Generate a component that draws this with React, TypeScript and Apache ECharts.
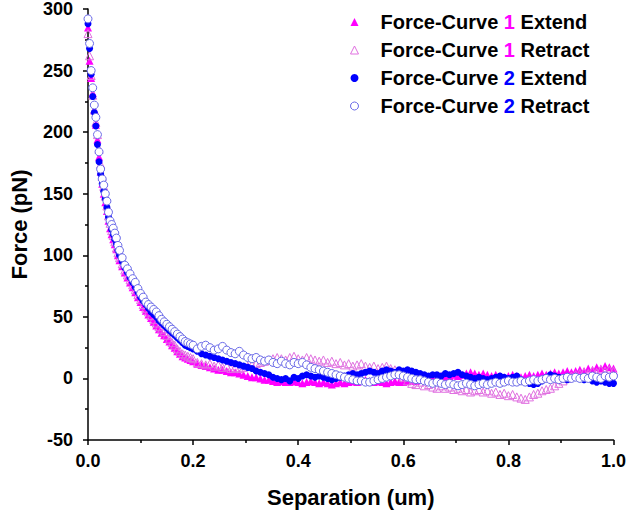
import React, { useEffect, useRef } from "react";
import * as echarts from "echarts";

const separation = [
  0.0, 0.003, 0.006, 0.009, 0.012, 0.015, 0.018, 0.021, 0.024, 0.027,
  0.03, 0.033, 0.036, 0.039, 0.042, 0.045, 0.048, 0.051, 0.054, 0.057, 0.06,
  0.065, 0.07, 0.075, 0.08, 0.085, 0.09, 0.095, 0.1, 0.105, 0.11,
  0.115, 0.12, 0.125, 0.13, 0.135, 0.14, 0.145, 0.15, 0.155, 0.16,
  0.165, 0.17, 0.175, 0.18, 0.185, 0.19, 0.195, 0.2,
  0.208, 0.216, 0.224, 0.232, 0.24, 0.248, 0.256, 0.264, 0.272, 0.28,
  0.288, 0.296, 0.304, 0.312, 0.32, 0.328, 0.336, 0.344, 0.352, 0.36,
  0.368, 0.376, 0.384, 0.392, 0.4, 0.408, 0.416, 0.424, 0.432, 0.44,
  0.448, 0.456, 0.464, 0.472, 0.48, 0.488, 0.496, 0.504, 0.512, 0.52,
  0.528, 0.536, 0.544, 0.552, 0.56, 0.568, 0.576, 0.584, 0.592, 0.6,
  0.608, 0.616, 0.624, 0.632, 0.64, 0.648, 0.656, 0.664, 0.672, 0.68,
  0.688, 0.696, 0.704, 0.712, 0.72, 0.728, 0.736, 0.744, 0.752, 0.76,
  0.768, 0.776, 0.784, 0.792, 0.8, 0.808, 0.816, 0.824, 0.832, 0.84,
  0.848, 0.856, 0.864, 0.872, 0.88, 0.888, 0.896, 0.904, 0.912, 0.92,
  0.928, 0.936, 0.944, 0.952, 0.96, 0.968, 0.976, 0.984, 0.992, 1.0,
];

const extend1 = [
  285, 258, 244, 232, 218, 206, 194, 180, 168, 158, 150, 143, 136, 128, 122, 117, 113, 109, 105, 100, 96,
  91, 86, 82, 78, 74, 70, 66, 62, 58, 55, 52, 49, 46, 43, 40, 37, 35, 32, 30, 27, 25, 22, 20, 18, 17, 16, 15, 14,
  12, 11, 10, 9, 8, 7, 7, 6, 5, 5,
  4, 3, 2, 1, 1, 0, -1, -1, -2, -3,
  -2, -3, -3, -2, -3, -4, -3, -2, -3, -4,
  -3, -4, -5, -4, -3, -4, -3, -2, -3, -2,
  -1, -2, -3, -2, -3, -4, -3, -2, -3, -3,
  -2, -1, -2, -1, 0, 1, 0, 1, 2, 1,
  2, 3, 2, 3, 4, 5, 4, 3, 4, 3,
  2, 3, 2, 1, 2, 3, 2, 1, 2, 3,
  2, 3, 4, 3, 4, 5, 4, 5, 6, 5,
  6, 7, 6, 8, 7, 9, 8, 10, 9, 8,
];

const retract1 = [
  280, 262, 246, 230, 218, 208, 198, 186, 174, 164, 156, 148, 140, 132, 126, 120, 116, 111, 106, 102, 98,
  93, 88, 84, 80, 76, 72, 68, 64, 60, 57, 54, 51, 48, 45, 42, 40, 38, 35, 32, 29, 27, 24, 22, 20, 19, 18, 17, 16,
  13, 12, 11, 12, 10, 11, 9, 10, 8, 9,
  8, 9, 10, 11, 12, 13, 14, 15, 16, 17,
  16, 15, 17, 18, 16, 15, 17, 16, 15, 14,
  15, 13, 14, 12, 13, 11, 12, 10, 11, 12,
  10, 9, 10, 8, 9, 10, 8, 7, 4, 1,
  -2, -4, -5, -3, -6, -5, -7, -8, -6, -8,
  -7, -9, -8, -10, -9, -11, -10, -9, -11, -10,
  -12, -11, -13, -12, -14, -13, -15, -16, -17, -15,
  -13, -12, -10, -9, -8, -6, -4, -2, 0, 2,
  3, 4, 5, 4, 6, 5, 7, 6, 7, 6,
];

const extend2 = [
  288, 268, 247, 229, 216, 205, 190, 176, 166, 158, 152, 146, 139, 131, 126, 121, 117, 113, 109, 104, 100,
  95, 90, 86, 82, 78, 74, 70, 66, 63, 60, 57, 54, 52, 50, 47, 45, 43, 41, 39, 37, 35, 33, 31, 29, 27, 26, 25, 24,
  22, 20, 19, 18, 17, 16, 15, 14, 13, 12,
  11, 10, 9, 8, 6, 5, 4, 3, 1, 0,
  -1, 0, -2, 1, 0, 2, 3, 2, 1, 2,
  1, 0, -1, 0, 1, 2, 3, 4, 3, 4,
  5, 6, 5, 4, 6, 7, 6, 5, 7, 6,
  7, 6, 5, 4, 3, 2, 3, 3, 2, 4,
  3, 4, 5, 3, 2, 1, 0, 1, 0, -1,
  0, 1, 2, 1, 0, 1, 2, -1, -3, -4,
  -5, -4, -2, 1, 3, 2, 1, 0, -1, 0,
  1, 0, -1, 0, -2, -3, -2, -3, -4, -4,
];

const retract2 = [
  292, 272, 250, 236, 222, 212, 198, 184, 170, 162, 157, 150, 144, 135, 128, 125, 122, 118, 114, 108, 104,
  98, 92, 89, 85, 81, 78, 73, 69, 66, 62, 60, 58, 56, 54, 51, 48, 46, 44, 42, 40, 38, 36, 34, 32, 30, 29, 28, 27,
  24, 26, 27, 25, 23, 24, 26, 23, 21, 20,
  22, 19, 17, 16, 17, 15, 14, 15, 13, 12,
  14, 12, 11, 13, 12, 13, 11, 9, 8, 7,
  6, 5, 4, 3, 2, 1, 0, -1, -2, -2,
  -3, -3, -2, -1, 0, 1, 2, 3, 3, 2,
  1, 0, -1, -1, -2, -3, -4, -3, -4, -5,
  -4, -5, -6, -5, -4, -5, -6, -5, -4, -5,
  -4, -3, -4, -3, -2, -3, -3, -2, -3, -2,
  -1, -2, -1, 0, -1, 0, -1, 0, 1, 0,
  1, 0, 1, 0, 2, 1, 0, 2, 1, 2,
];

const seriesNames = [
  "Force-Curve 1 Extend",
  "Force-Curve 1 Retract",
  "Force-Curve 2 Extend",
  "Force-Curve 2 Retract",
];

const xTicks = { min: 0, max: 1, interval: 0.2 };
const yTicks = { min: -50, max: 300, interval: 50 };

const FONT = "'Liberation Sans', Arial, Helvetica, sans-serif";

function pairs(ys: number[]) {
  return ys.map((y, i) => [separation[i], y]);
}

export default function App() {
  const ref = useRef<HTMLDivElement>(null);
  useEffect(() => {
    document.body.style.margin = "0";
    if (!ref.current) return;
    const chart = echarts.init(ref.current, undefined, { renderer: "svg" });
    const axisCommon = {
      axisLine: { show: true, onZero: false, lineStyle: { color: "#000", width: 1.5 } },
      axisTick: { show: true, inside: false, length: 5, lineStyle: { color: "#000", width: 1.5 } },
      minorTick: { show: true, splitNumber: 2, length: 3, lineStyle: { color: "#000", width: 1.5 } },
      splitLine: { show: false },
      minorSplitLine: { show: false },
      axisLabel: { color: "#000", fontFamily: FONT, fontWeight: "bold", fontSize: 18 },
      nameTextStyle: { color: "#000", fontFamily: FONT, fontWeight: "bold", fontSize: 22 },
    };
    const tok = { fontFamily: FONT, fontWeight: "bold", fontSize: 20, lineHeight: 20 };
    const textRich = {
      gap: { width: 17, fontSize: 18, lineHeight: 20 },
      t: { ...tok, color: "#000" },
      c1: { ...tok, color: "#FF00FF" },
      c2: { ...tok, color: "#0000FF" },
    };
    chart.setOption({
      animation: false,
      backgroundColor: "#fff",
      grid: { left: 79, right: 14, top: 8, bottom: 71, containLabel: false },
      xAxis: {
        type: "value",
        ...axisCommon,
        ...xTicks,
        name: "Separation (um)",
        nameLocation: "middle",
        nameGap: 46,
        axisLabel: { ...axisCommon.axisLabel, margin: 12, formatter: (v: number) => v.toFixed(1) },
      },
      yAxis: {
        type: "value",
        ...axisCommon,
        ...yTicks,
        name: "Force (pN)",
        nameLocation: "middle",
        nameGap: 58,
        nameRotate: 90,
        axisLabel: { ...axisCommon.axisLabel, margin: 15 },
      },
      legend: {
        orient: "vertical",
        left: 345,
        top: 7,
        itemWidth: 8,
        itemHeight: 8,
        itemGap: 8,
        textStyle: { rich: textRich, lineHeight: 20 },
        formatter: (name: string) => {
          const m = name.match(/^(Force-Curve )(\d)( .*)$/);
          if (!m) return name;
          return `{gap| }{t|${m[1]}}{c${m[2]}|${m[2]}}{t|${m[3]}}`;
        },
        data: [
          { name: seriesNames[0], icon: "triangle", itemStyle: { color: "#FF00FF", borderWidth: 0 } },
          { name: seriesNames[1], icon: "triangle", itemStyle: { color: "rgba(255,255,255,0)", borderColor: "#E070E0", borderWidth: 1 } },
          { name: seriesNames[2], icon: "circle", itemStyle: { color: "#0000FF", borderWidth: 0 } },
          { name: seriesNames[3], icon: "circle", itemStyle: { color: "#fff", borderColor: "#6A6AE8", borderWidth: 1 } },
        ],
      },
      series: [
        {
          name: seriesNames[0],
          type: "scatter",
          symbol: "triangle",
          symbolSize: 8,
          data: pairs(extend1),
          itemStyle: { color: "#FF00FF", opacity: 1 },
        },
        {
          name: seriesNames[1],
          type: "scatter",
          symbol: "triangle",
          symbolSize: 8,
          data: pairs(retract1),
          itemStyle: { color: "rgba(255,255,255,0)", borderColor: "#E070E0", borderWidth: 1, opacity: 1 },
        },
        {
          name: seriesNames[2],
          type: "scatter",
          symbol: "circle",
          symbolSize: 7,
          data: pairs(extend2),
          itemStyle: { color: "#0000FF", opacity: 1 },
        },
        {
          name: seriesNames[3],
          type: "scatter",
          symbol: "circle",
          symbolSize: 8,
          data: pairs(retract2),
          itemStyle: { color: "#fff", borderColor: "#6A6AE8", borderWidth: 1, opacity: 1 },
        },
      ],
    });
    return () => chart.dispose();
  }, []);
  return <div ref={ref} style={{ width: 629, height: 513 }} />;
}
